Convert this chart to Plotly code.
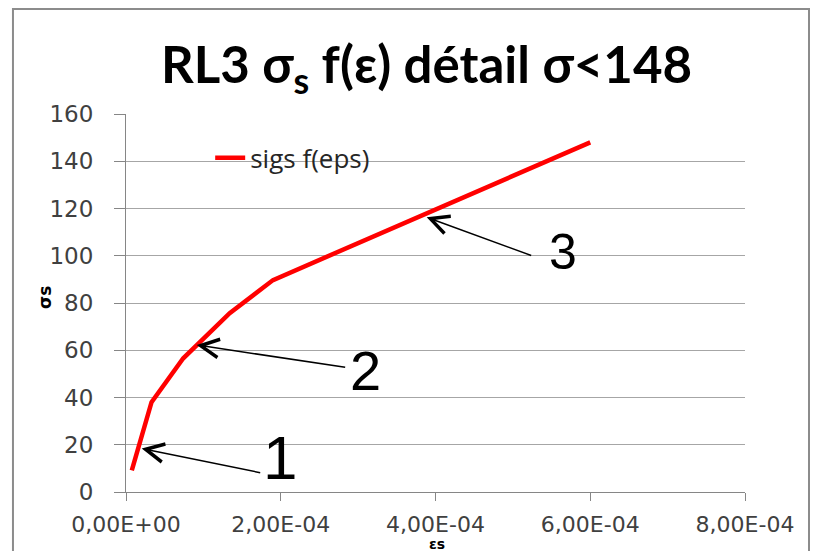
import plotly.graph_objects as go

# ---------------- Données ----------------
eps_s = [7.5e-6, 3.3e-5, 7.4e-5, 1.34e-4, 1.90e-4, 6.0e-4]
sig_s = [9.2, 38.0, 56.6, 75.7, 89.7, 148.0]

# repères 1, 2, 3 : pointe de flèche, départ de flèche, position du chiffre
rep_labels = ["1", "2", "3"]
rep_head_x = [2.03e-5, 9.14e-5, 3.886e-4]
rep_head_y = [18.4, 62.2, 116.3]
rep_tail_x = [1.754e-4, 2.852e-4, 5.256e-4]
rep_tail_y = [8.05, 52.7, 99.9]
rep_txt_x = [1.99e-4, 3.09e-4, 5.65e-4]
rep_txt_y = [14.7, 51.6, 101.6]
rep_size = [62, 56, 50]

x_ticks = [0, 2e-4, 4e-4, 6e-4, 8e-4]
x_ticktext = ["0,00E+00", "2,00E-04", "4,00E-04", "6,00E-04", "8,00E-04"]
y_ticks = [0, 20, 40, 60, 80, 100, 120, 140, 160]

# ---------------- Figure -----------------
fig = go.Figure()
fig.add_trace(go.Scatter(x=eps_s, y=sig_s, mode="lines", name="sigs f(eps)",
                         line=dict(color="#ff0000", width=4.5)))

for lab, hx, hy, tx, ty, lx, ly, fs in zip(rep_labels, rep_head_x, rep_head_y, rep_tail_x,
                                           rep_tail_y, rep_txt_x, rep_txt_y, rep_size):
    fig.add_annotation(x=hx, y=hy, ax=tx, ay=ty, axref="x", ayref="y", text="",
                       showarrow=True, arrowhead=5, arrowsize=2.4, arrowwidth=1.5,
                       arrowcolor="#000000")
    fig.add_annotation(x=lx, y=ly, text=lab, showarrow=False,
                       font=dict(family="Liberation Sans", size=fs, color="#000000"))

# titres des axes (placés à la main, comme dans Excel)
fig.add_annotation(xref="paper", yref="paper", x=0.502, y=-0.137, text="<b>εs</b>",
                   showarrow=False, yanchor="middle",
                   font=dict(family="DejaVu Sans", size=14, color="#000000"))
fig.add_annotation(xref="paper", yref="paper", x=-0.1309, y=0.516, text="<b>σs</b>",
                   showarrow=False, textangle=-90, xanchor="center", yanchor="middle",
                   font=dict(family="DejaVu Sans", size=17, color="#000000"))

# cadre du graphique (style Excel)
fig.add_shape(type="rect", xref="paper", yref="paper", x0=-0.1826, x1=1.1034, y0=-0.17, y1=1.2778,
              line=dict(color="#8c8c8c", width=2))

axis_common = dict(showline=True, linecolor="#868686", linewidth=1, ticks="outside",
                   tickcolor="#868686", zeroline=False)

fig.update_xaxes(range=[0, 8e-4], tickvals=x_ticks, ticktext=x_ticktext, showgrid=False,
                 ticklen=8, ticklabelstandoff=5,
                 tickfont=dict(family="DejaVu Sans", size=22, color="#404040"), **axis_common)
fig.update_yaxes(range=[0, 160], tickvals=y_ticks, showgrid=True, gridcolor="#a6a6a6",
                 gridwidth=1, ticklen=11, ticklabelstandoff=16,
                 tickfont=dict(family="DejaVu Sans", size=23, color="#404040"), **axis_common)

fig.update_layout(
    width=802, height=543,
    margin=dict(l=118, r=65, t=106, b=59, autoexpand=False),
    paper_bgcolor="white", plot_bgcolor="white",
    title=dict(text="<b>RL3 σ<sub>s</sub> f(ε) détail σ<148</b>", x=0.5218, xanchor="center",
               y=0.895, yanchor="middle",
               font=dict(family="Lato", size=51, color="#000000")),
    showlegend=True,
    legend=dict(x=0.136, y=0.884, xanchor="left", yanchor="middle", bgcolor="rgba(0,0,0,0)",
                font=dict(family="Open Sans", size=26, color="#262626")),
)

fig.write_html("out.html")
